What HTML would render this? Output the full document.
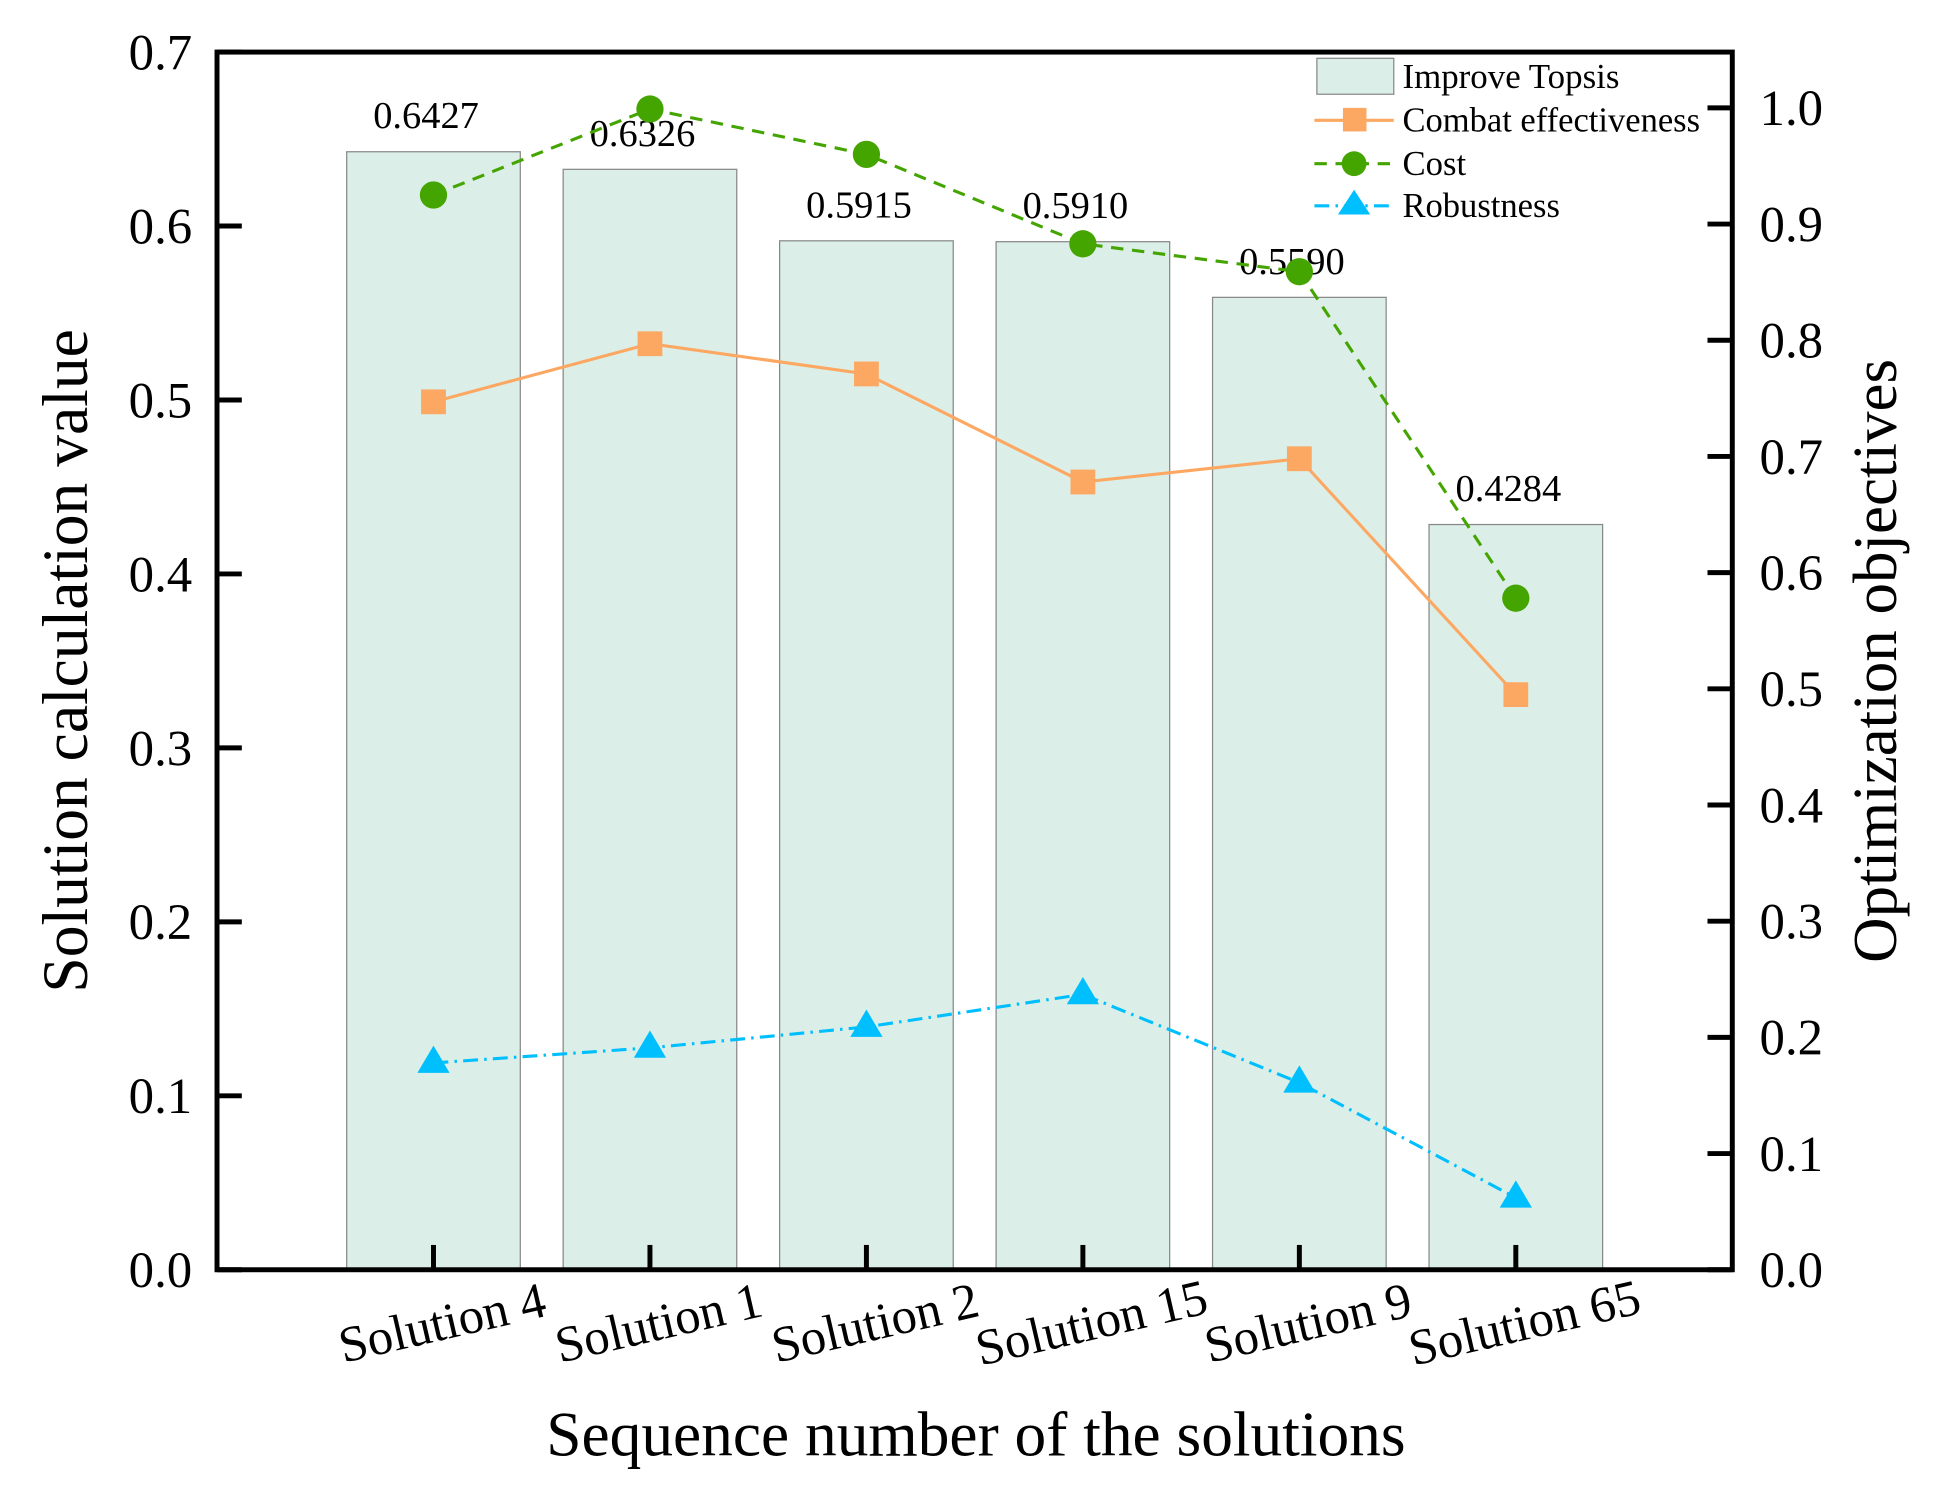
<!DOCTYPE html>
<html><head><meta charset="utf-8"><style>
html,body{margin:0;padding:0;background:#fff;}
svg{display:block;font-family:"Liberation Serif",serif;}
</style></head><body>
<svg id="chart" width="1941" height="1502" viewBox="0 0 1565.3 1211.3" xmlns="http://www.w3.org/2000/svg">
<g id="bars"></g>
<g id="lines"></g>
<g id="axes"></g>
<g id="legend">
  <rect x="1062" y="47" width="62" height="29" fill="#dbefe8" stroke="#888" stroke-width="1"/>
  <text x="1131" y="71" font-size="28" textLength="175" lengthAdjust="spacingAndGlyphs">Improve Topsis</text>
  <line x1="1060" y1="97" x2="1124" y2="97" stroke="#fca863" stroke-width="2.5"/>
  <rect x="1083" y="87" width="19" height="19" fill="#fca863"/>
  <text x="1131" y="106" font-size="28" textLength="240" lengthAdjust="spacingAndGlyphs">Combat effectiveness</text>
  <line x1="1060" y1="132" x2="1124" y2="132" stroke="#44a500" stroke-width="2.5" stroke-dasharray="10,7"/>
  <circle cx="1092" cy="132" r="10" fill="#44a500"/>
  <text x="1131" y="141" font-size="28">Cost</text>
  <line x1="1060" y1="166" x2="1124" y2="166" stroke="#00bfff" stroke-width="2.5" stroke-dasharray="12,5,2,5"/>
  <polygon points="1092,153 1105,173 1079,173" fill="#00bfff"/>
  <text x="1131" y="175" font-size="28" textLength="127" lengthAdjust="spacingAndGlyphs">Robustness</text>
</g>
<text transform="translate(70,533) rotate(-90)" text-anchor="middle" font-size="52" textLength="535" lengthAdjust="spacingAndGlyphs">Solution calculation value</text>
<text transform="translate(1529,533) rotate(-90)" text-anchor="middle" font-size="50" textLength="487" lengthAdjust="spacingAndGlyphs">Optimization objectives</text>
<text x="787" y="1174" text-anchor="middle" font-size="51" textLength="693" lengthAdjust="spacingAndGlyphs">Sequence number of the solutions</text>
</svg>
<script>
const categories = ["Solution 4","Solution 1","Solution 2","Solution 15","Solution 9","Solution 65"];
const topsis = [0.6427,0.6326,0.5915,0.5910,0.5590,0.4284];
const topsisLabels = ["0.6427","0.6326","0.5915","0.5910","0.5590","0.4284"];
const combat = [0.747,0.797,0.771,0.678,0.698,0.495];
const cost = [0.925,0.999,0.960,0.883,0.859,0.578];
const robustness = [0.178,0.191,0.209,0.237,0.161,0.062];
const leftTicks = [0,0.1,0.2,0.3,0.4,0.5,0.6,0.7];
const leftTickLabels = ["0.0","0.1","0.2","0.3","0.4","0.5","0.6","0.7"];
const rightTicks = [0,0.1,0.2,0.3,0.4,0.5,0.6,0.7,0.8,0.9,1.0];
const rightTickLabels = ["0.0","0.1","0.2","0.3","0.4","0.5","0.6","0.7","0.8","0.9","1.0"];

const NS="http://www.w3.org/2000/svg";
const L=175,R=1397,T=42,B=1024;
const xPos=i=>L+(R-L)/7*(i+1);
const yLeft=v=>B-(B-T)*v/0.7;
const yRight=v=>B-937*v;
function mk(tag,attrs,parent){const e=document.createElementNS(NS,tag);for(const k in attrs)e.setAttribute(k,attrs[k]);parent.appendChild(e);return e;}
const gb=document.getElementById('bars'),gl=document.getElementById('lines'),ga=document.getElementById('axes');
topsis.forEach((v,i)=>{
  const r=mk('rect',{x:xPos(i)-70,y:yLeft(v),width:140,height:B-yLeft(v),fill:'#dbefe8',stroke:'#888','stroke-width':1},gb);
  
  
  const t=mk('text',{x:xPos(i)-6,y:yLeft(v)-19,'text-anchor':'middle','font-size':31},gb);
  t.textContent=topsisLabels[i];
  
  
});
function series(vals,color,dash,marker,name){
  const pts=vals.map((v,i)=>xPos(i)+','+yRight(v)).join(' ');
  const pl=mk('polyline',{points:pts,fill:'none',stroke:color,'stroke-width':2.5},gl);
  if(dash)pl.setAttribute('stroke-dasharray',dash);
  
  
  vals.forEach((v,i)=>{
    const x=xPos(i),y=yRight(v);let m;
    if(marker==='sq')m=mk('rect',{x:x-10,y:y-10,width:20,height:20,fill:color},gl);
    else if(marker==='c')m=mk('circle',{cx:x,cy:y,r:11,fill:color},gl);
    else m=mk('polygon',{points:`${x},${y-14} ${x+13},${y+8} ${x-13},${y+8}`,fill:color},gl);
    
    
  });
}
series(combat,'#fca863',null,'sq','combat-effectiveness');
series(cost,'#44a500','10,7','c','cost');
series(robustness,'#00bfff','12,5,2,5','t','robustness');
const frame=mk('rect',{x:L,y:T,width:R-L,height:B-T,fill:'none',stroke:'#000','stroke-width':4},ga);


leftTicks.forEach((v,i)=>{
  const y=yLeft(v);
  const tk=mk('line',{x1:L,x2:L+20,y1:y,y2:y,stroke:'#000','stroke-width':4},ga);
  
  
  const t=mk('text',{x:L-20,y:y+14,'text-anchor':'end','font-size':41},ga);
  t.textContent=leftTickLabels[i];
  
  
});
rightTicks.forEach((v,i)=>{
  const y=yRight(v);
  const tk=mk('line',{x1:R-20,x2:R,y1:y,y2:y,stroke:'#000','stroke-width':4},ga);
  
  
  const t=mk('text',{x:R+22,y:y+14,'font-size':41},ga);
  t.textContent=rightTickLabels[i];
  
  
});
categories.forEach((c,i)=>{
  const x=xPos(i);
  const tk=mk('line',{x1:x,x2:x,y1:B,y2:B-20,stroke:'#000','stroke-width':4},ga);
  
  
  const t=mk('text',{transform:`translate(${x+10},${1080}) rotate(-13)`,'text-anchor':'middle','font-size':41},ga);
  t.textContent=c;
  
  
});
</script>
</body></html>
